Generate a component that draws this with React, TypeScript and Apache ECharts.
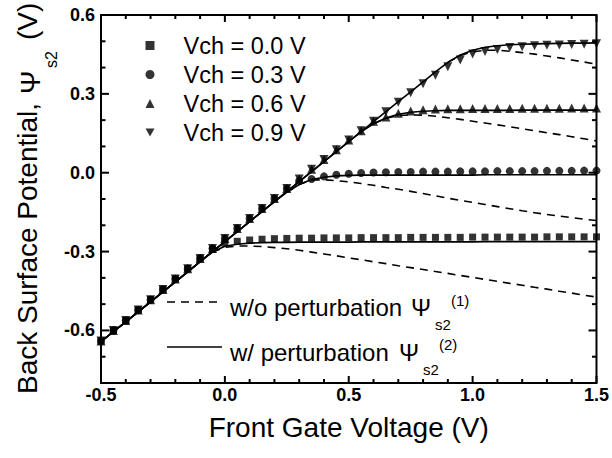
import React, { useEffect, useRef } from 'react';
import * as echarts from 'echarts';

const FONT = '"Liberation Sans", Arial, Helvetica, sans-serif';

// Front gate voltage grid (V)
const vfg = [-0.5, -0.45, -0.4, -0.35, -0.3, -0.25, -0.2, -0.15, -0.1, -0.05, 0, 0.05, 0.1, 0.15, 0.2, 0.25, 0.3, 0.35, 0.4, 0.45, 0.5, 0.55, 0.6, 0.65, 0.7, 0.75, 0.8, 0.85, 0.9, 0.95, 1.0, 1.05, 1.1, 1.15, 1.2, 1.25, 1.3, 1.35, 1.4, 1.45, 1.5];

const legendNames = ['Vch = 0.0 V', 'Vch = 0.3 V', 'Vch = 0.6 V', 'Vch = 0.9 V'];

// Measured points (markers)
const markVch00 = [-0.640, -0.600, -0.562, -0.522, -0.483, -0.444, -0.404, -0.365, -0.326, -0.292, -0.268, -0.261, -0.256, -0.253, -0.251, -0.250, -0.249, -0.249, -0.248, -0.248, -0.248, -0.247, -0.247, -0.247, -0.247, -0.246, -0.246, -0.246, -0.246, -0.246, -0.245, -0.245, -0.245, -0.245, -0.245, -0.245, -0.244, -0.244, -0.244, -0.244, -0.244];
const markVch03 = [-0.640, -0.600, -0.562, -0.522, -0.483, -0.444, -0.404, -0.365, -0.326, -0.288, -0.250, -0.212, -0.174, -0.136, -0.098, -0.060, -0.030, -0.024, -0.014, -0.008, -0.004, -0.001, 0.001, 0.002, 0.003, 0.003, 0.004, 0.004, 0.004, 0.005, 0.005, 0.005, 0.006, 0.006, 0.006, 0.006, 0.007, 0.007, 0.007, 0.008, 0.008];
const markVch06 = [-0.640, -0.600, -0.562, -0.522, -0.483, -0.444, -0.404, -0.365, -0.326, -0.288, -0.250, -0.212, -0.174, -0.136, -0.098, -0.060, -0.024, 0.013, 0.050, 0.087, 0.124, 0.160, 0.196, 0.212, 0.226, 0.235, 0.240, 0.242, 0.243, 0.243, 0.244, 0.244, 0.244, 0.244, 0.245, 0.245, 0.245, 0.245, 0.246, 0.246, 0.246];
const markVch09 = [-0.640, -0.600, -0.562, -0.522, -0.483, -0.444, -0.404, -0.365, -0.326, -0.288, -0.250, -0.212, -0.174, -0.136, -0.098, -0.060, -0.024, 0.013, 0.050, 0.087, 0.124, 0.160, 0.196, 0.232, 0.268, 0.304, 0.338, 0.371, 0.403, 0.429, 0.452, 0.461, 0.469, 0.476, 0.479, 0.483, 0.485, 0.486, 0.488, 0.489, 0.491];

// Model with perturbation (solid)
const solidVch00 = [-0.643, -0.605, -0.567, -0.529, -0.491, -0.453, -0.415, -0.377, -0.338, -0.302, -0.280, -0.272, -0.268, -0.266, -0.265, -0.265, -0.264, -0.264, -0.264, -0.264, -0.264, -0.263, -0.263, -0.263, -0.263, -0.263, -0.263, -0.263, -0.263, -0.263, -0.263, -0.262, -0.262, -0.262, -0.262, -0.262, -0.262, -0.262, -0.262, -0.262, -0.262];
const solidVch03 = [-0.643, -0.605, -0.567, -0.529, -0.491, -0.453, -0.415, -0.377, -0.338, -0.300, -0.262, -0.224, -0.186, -0.148, -0.110, -0.075, -0.045, -0.026, -0.017, -0.012, -0.010, -0.009, -0.009, -0.009, -0.009, -0.009, -0.009, -0.009, -0.009, -0.009, -0.009, -0.008, -0.008, -0.008, -0.008, -0.008, -0.008, -0.008, -0.008, -0.008, -0.008];
const solidVch06 = [-0.643, -0.605, -0.567, -0.529, -0.491, -0.453, -0.415, -0.377, -0.338, -0.300, -0.262, -0.224, -0.186, -0.148, -0.110, -0.072, -0.034, 0.004, 0.042, 0.080, 0.118, 0.156, 0.186, 0.208, 0.222, 0.230, 0.234, 0.236, 0.237, 0.237, 0.237, 0.237, 0.237, 0.237, 0.238, 0.238, 0.238, 0.238, 0.238, 0.238, 0.238];
const solidVch09 = [-0.643, -0.605, -0.567, -0.529, -0.491, -0.453, -0.415, -0.377, -0.338, -0.300, -0.262, -0.224, -0.186, -0.148, -0.110, -0.072, -0.034, 0.004, 0.042, 0.080, 0.118, 0.156, 0.194, 0.232, 0.270, 0.308, 0.346, 0.384, 0.420, 0.448, 0.466, 0.477, 0.483, 0.487, 0.489, 0.490, 0.491, 0.492, 0.493, 0.493, 0.494];

// Model without perturbation (dashed)
const dashVch00 = [null, null, null, null, null, null, null, null, null, -0.302, -0.284, -0.279, -0.279, -0.281, -0.285, -0.289, -0.295, -0.302, -0.309, -0.316, -0.324, -0.331, -0.339, -0.346, -0.354, -0.361, -0.368, -0.376, -0.383, -0.391, -0.398, -0.406, -0.413, -0.421, -0.428, -0.436, -0.443, -0.451, -0.458, -0.466, -0.473];
const dashVch03 = [null, null, null, null, null, null, null, null, null, null, null, null, null, null, null, -0.075, -0.045, -0.028, -0.027, -0.030, -0.035, -0.041, -0.048, -0.056, -0.063, -0.071, -0.079, -0.088, -0.097, -0.105, -0.113, -0.121, -0.129, -0.137, -0.145, -0.152, -0.159, -0.165, -0.171, -0.177, -0.182];
const dashVch06 = [null, null, null, null, null, null, null, null, null, null, null, null, null, null, null, null, null, null, null, null, null, null, 0.186, 0.207, 0.217, 0.220, 0.219, 0.215, 0.209, 0.203, 0.196, 0.189, 0.182, 0.175, 0.167, 0.160, 0.152, 0.145, 0.137, 0.129, 0.121];
const dashVch09 = [null, null, null, null, null, null, null, null, null, null, null, null, null, null, null, null, null, null, null, null, null, null, null, null, null, null, null, null, 0.420, 0.446, 0.460, 0.466, 0.466, 0.462, 0.457, 0.451, 0.444, 0.437, 0.429, 0.421, 0.413];

// Axis range and tick values
const xRange = [-0.5, 1.5];
const yRange = [-0.8, 0.6];
const xTicksMajor = [-0.5, 0, 0.5, 1.0, 1.5];
const xTicksMinor = [-0.4, -0.3, -0.2, -0.1, 0.1, 0.2, 0.3, 0.4, 0.6, 0.7, 0.8, 0.9, 1.1, 1.2, 1.3, 1.4];
const yTicksMajor = [-0.6, -0.3, 0, 0.3, 0.6];
const yTicksMinor = [-0.8, -0.7, -0.5, -0.4, -0.2, -0.1, 0.1, 0.2, 0.4, 0.5];

const markers = [markVch00, markVch03, markVch06, markVch09];
const solids = [solidVch00, solidVch03, solidVch06, solidVch09];
const dashes = [dashVch00, dashVch03, dashVch06, dashVch09];
const symbols = ['rect', 'circle', 'triangle', 'path://M0,0L10,0L5,9Z'];
const symbolSizes = [7, 8, 9, 9];

const toPairs = (ys: (number | null)[]) => vfg.map((x, i) => [x, ys[i]]).filter((p) => p[1] !== null);

export default function App() {
  const ref = useRef<HTMLDivElement>(null);
  useEffect(() => {
    const chart = echarts.init(ref.current!, null, { renderer: 'svg' });
    const black = '#000';
    const fmt1 = (v: number) => (Math.round(v * 10) / 10).toFixed(1);
    const fmtY = (v: number) => {
      const t = Math.round(v * 10);
      return t % 3 === 0 ? (t / 10).toFixed(1) : '';
    };

    // Frame + inward ticks, drawn by a custom series through the axes' coordinate system
    const frameRender = (_params: any, api: any) => {
      const [L, B] = api.coord([xRange[0], yRange[0]]);
      const [R, T] = api.coord([xRange[1], yRange[1]]);
      const st = { stroke: black, lineWidth: 2, fill: null };
      const seg = (x1: number, y1: number, x2: number, y2: number) => ({ type: 'line', shape: { x1, y1, x2, y2 }, style: st });
      const children: any[] = [
        { type: 'rect', shape: { x: L, y: T, width: R - L, height: B - T }, style: { stroke: black, lineWidth: 2, fill: 'none' } },
      ];
      xTicksMajor.forEach((v) => { const x = api.coord([v, yRange[0]])[0]; children.push(seg(x, B, x, B - 7), seg(x, T, x, T + 7)); });
      xTicksMinor.forEach((v) => { const x = api.coord([v, yRange[0]])[0]; children.push(seg(x, B, x, B - 4), seg(x, T, x, T + 4)); });
      yTicksMajor.forEach((v) => { const y = api.coord([xRange[0], v])[1]; children.push(seg(L, y, L + 8, y), seg(R, y, R - 8, y)); });
      yTicksMinor.forEach((v) => { const y = api.coord([xRange[0], v])[1]; children.push(seg(L, y, L + 4.5, y), seg(R, y, R - 4.5, y)); });
      return { type: 'group', children };
    };

    const series: any[] = [
      { type: 'custom', name: 'frame', renderItem: frameRender, data: [[xRange[0], yRange[0]]], silent: true, clip: false, z: 4 },
    ];
    for (let i = 0; i < 4; i++) {
      series.push({ type: 'line', name: 'solid' + i, data: toPairs(solids[i]), symbol: 'none', silent: true, lineStyle: { color: black, width: 1.6 }, z: 2 });
      series.push({ type: 'line', name: 'dash' + i, data: toPairs(dashes[i]), symbol: 'none', silent: true, lineStyle: { color: black, width: 1.6, type: [8, 6] }, z: 2 });
    }
    for (let i = 0; i < 4; i++) {
      series.push({ type: 'scatter', name: legendNames[i], data: toPairs(markers[i]), symbol: symbols[i], symbolSize: symbolSizes[i], itemStyle: { color: black }, z: 3 });
    }
    const txt = (text: string, x: number, y: number, fontSize: number) => ({
      type: 'text', x, y, style: { text, fontFamily: FONT, fontSize, fill: black, align: 'left', verticalAlign: 'middle' },
    });
    chart.setOption({
      animation: false,
      grid: { left: 101, top: 15, right: 13.5, bottom: 75 },
      xAxis: {
        type: 'value', position: 'bottom', min: xRange[0], max: xRange[1], interval: 0.5,
        axisLine: { show: false, onZero: false },
        axisTick: { show: false },
        splitLine: { show: false },
        axisLabel: { show: true, formatter: fmt1, fontFamily: FONT, fontWeight: 'bold', fontSize: 18, color: black, margin: 3, showMinLabel: true, showMaxLabel: true },
        name: 'Front Gate Voltage (V)', nameLocation: 'middle', nameGap: 30,
        nameTextStyle: { fontFamily: FONT, fontSize: 28, color: black, lineHeight: 28 },
      },
      yAxis: {
        type: 'value', position: 'left', min: yRange[0], max: yRange[1], interval: 0.1,
        axisLine: { show: false, onZero: false },
        axisTick: { show: false },
        splitLine: { show: false },
        axisLabel: { show: true, formatter: fmtY, fontFamily: FONT, fontWeight: 'bold', fontSize: 18, color: black, margin: 6, showMinLabel: true, showMaxLabel: true },
      },
      legend: {
        data: legendNames, orient: 'vertical', left: 145.5, top: 31, itemWidth: 9, itemHeight: 9, itemGap: 0, padding: 0, selectedMode: false,
        textStyle: { fontFamily: FONT, fontSize: 23.5, color: black, lineHeight: 29, padding: [0, 0, 0, 24] },
      },
      graphic: [
        { type: 'group', x: 27.3, y: 394, rotation: Math.PI / 2, children: [txt('Back Surface Potential,', 0, 0, 28), txt('Ψ', 300, 3, 28), txt('s2', 326, 24, 16), txt('(V)', 354, 0, 28)] },
        { type: 'line', shape: { x1: 167, y1: 302, x2: 222, y2: 302 }, style: { stroke: black, lineWidth: 1.6, lineDash: [8, 6] } },
        { type: 'line', shape: { x1: 167, y1: 347, x2: 222, y2: 347 }, style: { stroke: black, lineWidth: 1.6 } },
        txt('w/o perturbation', 230, 307.5, 24), txt('Ψ', 411, 307.5, 24), txt('s2', 435, 324, 15), txt('(1)', 451, 300, 15),
        txt('w/ perturbation', 230, 352, 24), txt('Ψ', 399, 352, 24), txt('s2', 423, 369, 15), txt('(2)', 439, 344, 15),
      ],
      series,
    });
    return () => chart.dispose();
  }, []);
  return <div ref={ref} style={{ position: 'fixed', left: 0, top: 0, width: 612, height: 458, background: '#fff' }} />;
}
